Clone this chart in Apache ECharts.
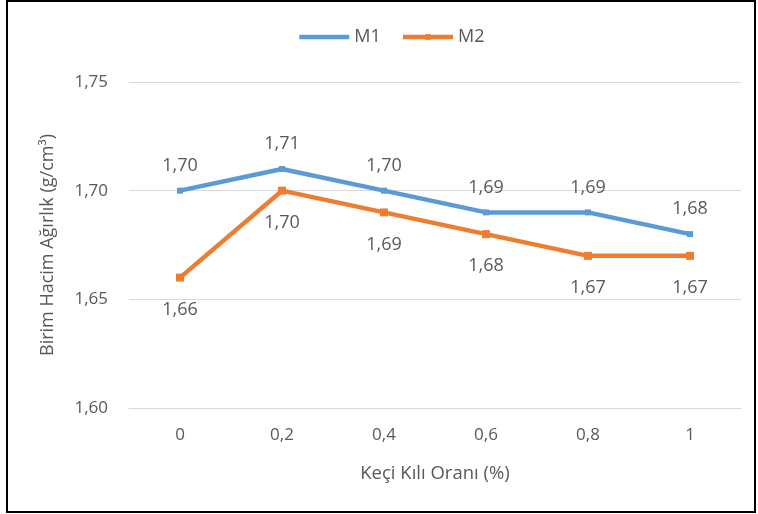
<!DOCTYPE html>
<html><head><meta charset="utf-8">
<script src="https://cdn.jsdelivr.net/npm/echarts@6/dist/echarts.min.js"></script>
<style>html,body{margin:0;padding:0;background:#fff}#c{width:758px;height:514px}</style>
</head><body><div id="c"></div>
<script>
const categories = ['0', '0,2', '0,4', '0,6', '0,8', '1'];
const m1 = [1.70, 1.71, 1.70, 1.69, 1.69, 1.68];
const m2 = [1.66, 1.70, 1.69, 1.68, 1.67, 1.67];
const seriesNames = ['M1', 'M2'];
const yMin = 1.60, yMax = 1.75, yStep = 0.05;

const fmt = v => v.toFixed(2).replace('.', ',');
const FONT = 'Open Sans';
const TXT = '#595959';
const chart = echarts.init(document.getElementById('c'));
chart.setOption({
  animation: false,
  textStyle: { fontFamily: FONT },
  graphic: [{ type: 'rect', shape: { x: 7, y: 1, width: 748, height: 511 }, style: { fill: 'none', stroke: '#000', lineWidth: 2 }, silent: true }],
  legend: {
    top: 23, left: 292, itemWidth: 50, itemHeight: 7, itemGap: 20,
    textStyle: { color: TXT, fontSize: 18, fontFamily: FONT },
    lineStyle: { width: 4.5 },
    data: [
      { name: seriesNames[0], itemStyle: { opacity: 0 } },
      { name: seriesNames[1] }
    ]
  },
  grid: { left: 129, right: 17, top: 82, bottom: 106 },
  xAxis: {
    type: 'category', data: categories, boundaryGap: true,
    axisLine: { show: true, lineStyle: { color: '#D9D9D9', width: 1 } },
    axisTick: { show: false },
    axisLabel: { color: TXT, fontSize: 17, margin: 19 },
    name: 'Keçi Kılı Oranı (%)', nameLocation: 'middle', nameGap: 56,
    nameTextStyle: { color: TXT, fontSize: 18.5 }
  },
  yAxis: {
    type: 'value', min: yMin, max: yMax, interval: yStep,
    axisLine: { show: false }, axisTick: { show: false },
    splitLine: { lineStyle: { color: '#D9D9D9', width: 1 } },
    axisLabel: { color: TXT, fontSize: 17, margin: 21, formatter: v => fmt(v) },
    name: 'Birim Hacim Ağırlık (g/cm³)', nameLocation: 'middle', nameGap: 72,
    nameTextStyle: { color: TXT, fontSize: 18 }
  },
  series: [
    { name: seriesNames[0], type: 'line', data: m1, symbol: 'rect', symbolSize: 6, showAllSymbol: true,
      itemStyle: { color: '#5B9BD5' }, lineStyle: { width: 4.5, color: '#5B9BD5' },
      label: { show: true, position: 'top', distance: 13, color: TXT, fontSize: 18, formatter: p => fmt(p.value) } },
    { name: seriesNames[1], type: 'line', data: m2, symbol: 'rect', symbolSize: 8, showAllSymbol: true,
      itemStyle: { color: '#ED7D31' }, lineStyle: { width: 4.5, color: '#ED7D31' },
      label: { show: true, position: 'bottom', distance: 19, color: TXT, fontSize: 18, formatter: p => fmt(p.value) } }
  ]
});
</script></body></html>
